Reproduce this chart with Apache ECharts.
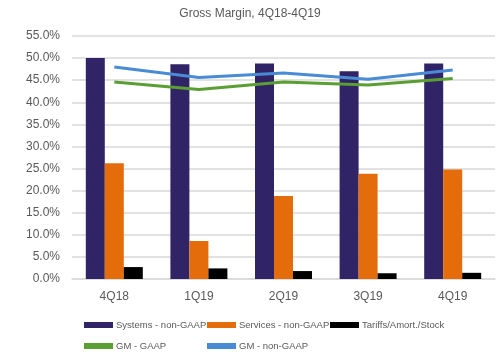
<!DOCTYPE html>
<html><head><meta charset="utf-8">
<script src="https://cdn.jsdelivr.net/npm/echarts@6/dist/echarts.min.js"></script>
<style>html,body{margin:0;padding:0;background:#fff}#c{width:500px;height:358px}</style>
</head><body><div id="c"></div>
<script>
const categories = ['4Q18','1Q19','2Q19','3Q19','4Q19'];
const systemsNonGaap = [50.0, 48.6, 48.8, 47.0, 48.8];
const servicesNonGaap = [26.2, 8.6, 18.8, 23.8, 24.8];
const tariffsAmortStock = [2.7, 2.4, 1.8, 1.3, 1.4];
const gmGaap = [44.6, 42.9, 44.6, 43.9, 45.4];
const gmNonGaap = [48.0, 45.6, 46.6, 45.2, 47.3];
const seriesNames = ['Systems - non-GAAP','Services - non-GAAP','Tariffs/Amort./Stock','GM - GAAP','GM - non-GAAP'];

const txt = '#595959';
const font = 'Liberation Sans';
function leg(name, left, top, icon){
  return {data:[{name:name, icon:icon}], left:left, top:top, itemWidth:29, itemHeight: icon==='rect'?6:4, itemGap:0,
    textStyle:{color:txt, fontSize:9.5, fontFamily:font, padding:[0,0,0,-2]}, padding:0};
}
const chart = echarts.init(document.getElementById('c'));
chart.setOption({
  animation:false,
  title:{text:'Gross Margin, 4Q18-4Q19', left:'center', top:3, textStyle:{color:txt, fontSize:12, fontWeight:'normal', fontFamily:font}},
  legend:[
    leg(seriesNames[0],84,320,'rect'),
    leg(seriesNames[1],207,320,'rect'),
    leg(seriesNames[2],330,320,'rect'),
    leg(seriesNames[3],84,341,'rect'),
    leg(seriesNames[4],207,341,'rect')
  ],
  grid:{left:72, right:5, top:36, bottom:79},
  xAxis:{type:'category', data:categories, axisTick:{show:false},
    axisLine:{lineStyle:{color:'#d9d9d9', width:1.5}},
    axisLabel:{color:txt, fontSize:12, fontFamily:font, margin:12}},
  yAxis:{type:'value', min:0, max:55, interval:5,
    axisLabel:{color:txt, fontSize:12, fontFamily:font, margin:12, formatter:v=>v.toFixed(1)+'%'},
    splitLine:{lineStyle:{color:'#d9d9d9', width:1.5}}},
  series:[
    {name:seriesNames[0], type:'bar', data:systemsNonGaap, barWidth:19, barGap:'0%', itemStyle:{color:'#302466'}},
    {name:seriesNames[1], type:'bar', data:servicesNonGaap, barWidth:19, barGap:'0%', itemStyle:{color:'#e46c0a'}},
    {name:seriesNames[2], type:'bar', data:tariffsAmortStock, barWidth:19, barGap:'0%', itemStyle:{color:'#000000'}},
    {name:seriesNames[3], type:'line', data:gmGaap, symbol:'none', lineStyle:{color:'#5a9e34', width:3}, itemStyle:{color:'#5a9e34'}},
    {name:seriesNames[4], type:'line', data:gmNonGaap, symbol:'none', lineStyle:{color:'#4a8bd6', width:3}, itemStyle:{color:'#4a8bd6'}}
  ]
});
</script></body></html>
